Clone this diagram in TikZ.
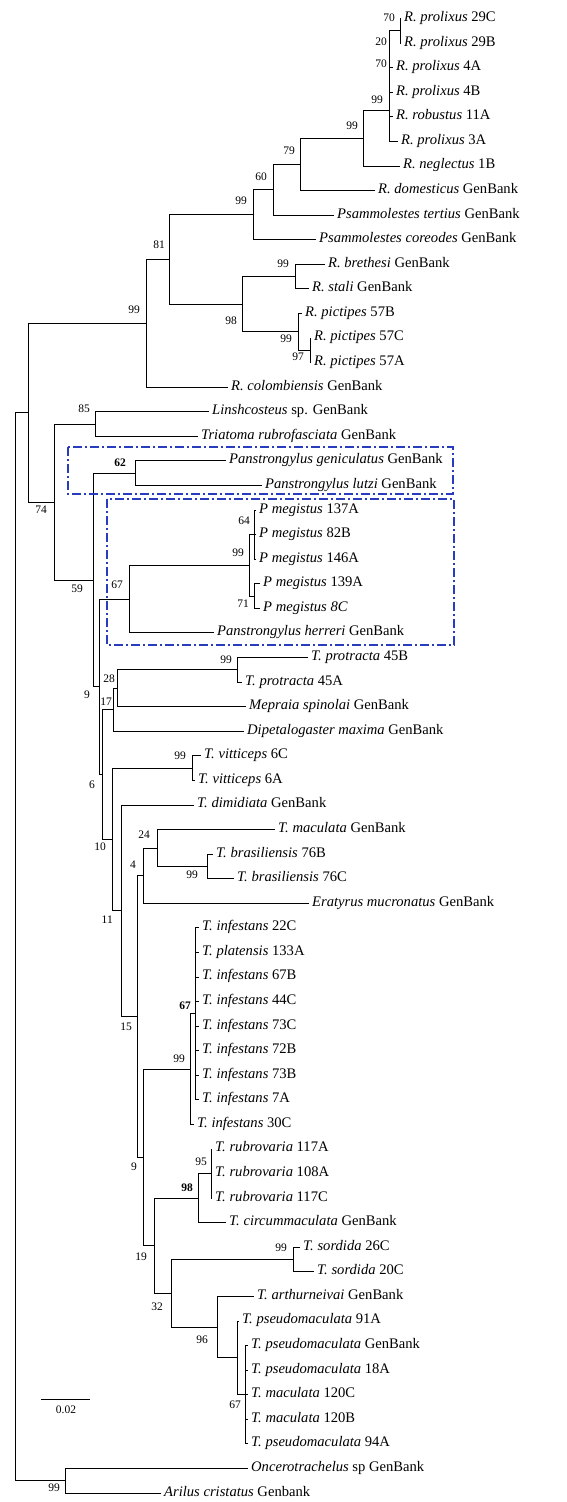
\documentclass[tikz,border=0pt]{standalone}
\usepackage{fontspec}
\setmainfont{Liberation Serif}
\definecolor{boxblue}{RGB}{40,60,190}
\begin{document}
\begin{tikzpicture}[x=1pt,y=-1pt,
  br/.style={draw=black,line width=0.8pt},
  leaf/.style={anchor=west,inner xsep=3.5pt,inner ysep=0pt,text height=0.6em,text depth=0pt,font=\fontsize{14.6}{16}\selectfont},
  bs/.style={anchor=east,inner sep=0pt,font=\fontsize{11.5}{13}\selectfont},
  clade/.style={draw=boxblue,line width=1.2pt,dash pattern=on 9pt off 3pt on 2pt off 3pt}]
\useasboundingbox (0,0) rectangle (566,1502);
% leaves
\node[leaf] (l1) at (400.5,18.5) {\textit{R. prolixus} 29C};
\node[leaf] (l2) at (400.5,43.08) {\textit{R. prolixus} 29B};
\node[leaf] (l3) at (392.5,67.65) {\textit{R. prolixus} 4A};
\node[leaf] (l4) at (392.5,92.23) {\textit{R. prolixus} 4B};
\node[leaf] (l5) at (392.5,116.8) {\textit{R. robustus} 11A};
\node[leaf] (l6) at (397.5,141.38) {\textit{R. prolixus} 3A};
\node[leaf] (l7) at (399.5,165.95) {\textit{R. neglectus} 1B};
\node[leaf] (l8) at (374.5,190.53) {\textit{R. domesticus} GenBank};
\node[leaf] (l9) at (333.5,215.1) {\textit{Psammolestes tertius} GenBank};
\node[leaf] (l10) at (315.5,239.68) {\textit{Psammolestes coreodes} GenBank};
\node[leaf] (l11) at (324.5,264.25) {\textit{R. brethesi} GenBank};
\node[leaf] (l12) at (308.5,288.83) {\textit{R. stali} GenBank};
\node[leaf] (l13) at (301.5,313.4) {\textit{R. pictipes} 57B};
\node[leaf] (l14) at (310.5,337.98) {\textit{R. pictipes} 57C};
\node[leaf] (l15) at (310.5,362.55) {\textit{R. pictipes} 57A};
\node[leaf] (l16) at (227.5,387.13) {\textit{R. colombiensis} GenBank};
\node[leaf] (l17) at (208.5,411.7) {\textit{Linshcosteus} sp. GenBank};
\node[leaf] (l18) at (197.5,436.28) {\textit{Triatoma rubrofasciata} GenBank};
\node[leaf] (l19) at (225.5,460.85) {\textit{Panstrongylus geniculatus} GenBank};
\node[leaf] (l20) at (261.5,485.43) {\textit{Panstrongylus lutzi} GenBank};
\node[leaf] (l21) at (255.5,510.0) {\textit{P megistus} 137A};
\node[leaf] (l22) at (255.5,534.58) {\textit{P megistus} 82B};
\node[leaf] (l23) at (255.5,559.15) {\textit{P megistus} 146A};
\node[leaf] (l24) at (259.5,583.73) {\textit{P megistus} 139A};
\node[leaf] (l25) at (259.5,608.3) {\textit{P megistus 8C}};
\node[leaf] (l26) at (213.5,632.88) {\textit{Panstrongylus herreri} GenBank};
\node[leaf] (l27) at (307.5,657.45) {\textit{T. protracta} 45B};
\node[leaf] (l28) at (241.5,682.03) {\textit{T. protracta} 45A};
\node[leaf] (l29) at (245.5,706.6) {\textit{Mepraia spinolai} GenBank};
\node[leaf] (l30) at (243.5,731.18) {\textit{Dipetalogaster maxima} GenBank};
\node[leaf] (l31) at (200.5,755.75) {\textit{T. vitticeps} 6C};
\node[leaf] (l32) at (194.5,780.33) {\textit{T. vitticeps} 6A};
\node[leaf] (l33) at (193.5,804.9) {\textit{T. dimidiata} GenBank};
\node[leaf] (l34) at (274.5,829.48) {\textit{T. maculata} GenBank};
\node[leaf] (l35) at (212.5,854.05) {\textit{T. brasiliensis} 76B};
\node[leaf] (l36) at (233.5,878.63) {\textit{T. brasiliensis} 76C};
\node[leaf] (l37) at (308.5,903.2) {\textit{Eratyrus mucronatus} GenBank};
\node[leaf] (l38) at (198.5,927.78) {\textit{T. infestans} 22C};
\node[leaf] (l39) at (198.5,952.35) {\textit{T. platensis} 133A};
\node[leaf] (l40) at (198.5,976.93) {\textit{T. infestans} 67B};
\node[leaf] (l41) at (198.5,1001.5) {\textit{T. infestans} 44C};
\node[leaf] (l42) at (198.5,1026.08) {\textit{T. infestans} 73C};
\node[leaf] (l43) at (198.5,1050.65) {\textit{T. infestans} 72B};
\node[leaf] (l44) at (198.5,1075.23) {\textit{T. infestans} 73B};
\node[leaf] (l45) at (198.5,1099.8) {\textit{T. infestans} 7A};
\node[leaf] (l46) at (193.5,1124.38) {\textit{T. infestans} 30C};
\node[leaf] (l47) at (211.5,1148.95) {\textit{T. rubrovaria} 117A};
\node[leaf] (l48) at (211.5,1173.53) {\textit{T. rubrovaria} 108A};
\node[leaf] (l49) at (211.5,1198.1) {\textit{T. rubrovaria} 117C};
\node[leaf] (l50) at (225.5,1222.68) {\textit{T. circummaculata} GenBank};
\node[leaf] (l51) at (299.5,1247.25) {\textit{T. sordida} 26C};
\node[leaf] (l52) at (313.5,1271.83) {\textit{T. sordida} 20C};
\node[leaf] (l53) at (253.5,1296.4) {\textit{T. arthurneivai} GenBank};
\node[leaf] (l54) at (238.5,1320.98) {\textit{T. pseudomaculata} 91A};
\node[leaf] (l55) at (247.5,1345.55) {\textit{T. pseudomaculata} GenBank};
\node[leaf] (l56) at (247.5,1370.13) {\textit{T. pseudomaculata} 18A};
\node[leaf] (l57) at (247.5,1394.7) {\textit{T. maculata} 120C};
\node[leaf] (l58) at (247.5,1419.28) {\textit{T. maculata} 120B};
\node[leaf] (l59) at (247.5,1443.85) {\textit{T. pseudomaculata} 94A};
\node[leaf] (l60) at (247.5,1468.43) {\textit{Oncerotrachelus} sp GenBank};
\node[leaf] (l61) at (160.5,1493.0) {\textit{Arilus cristatus} Genbank};
% internal nodes
\coordinate (root) at (15,946.7);
\coordinate (nOut) at (65,1480.72);
\coordinate (nA) at (28,412.63);
\coordinate (n99rh) at (146,323.28);
\coordinate (n81) at (169,259.43);
\coordinate (n99b) at (253,214.68);
\coordinate (n60) at (273,189.68);
\coordinate (n79) at (300,164.25);
\coordinate (n99c) at (363,137.98);
\coordinate (n99d) at (389,110);
\coordinate (n70a) at (400,30.79);
\coordinate (n98) at (242,304.19);
\coordinate (n99e) at (295,276.54);
\coordinate (n99f) at (298,331.83);
\coordinate (n97) at (310,350.27);
\coordinate (n74) at (54,501.98);
\coordinate (n85) at (95,423.99);
\coordinate (nP1) at (93,579.97);
\coordinate (n62) at (135,473.14);
\coordinate (nP2) at (99,686.8);
\coordinate (n67) at (129,599.1);
\coordinate (n99m) at (249,565.3);
\coordinate (n64) at (254,534.58);
\coordinate (n71) at (254,596.0);
\coordinate (nP3) at (102.5,774.5);
\coordinate (n17) at (113,709.68);
\coordinate (n28) at (117,688.17);
\coordinate (n99p) at (237,669.74);
\coordinate (nP4) at (112,839.37);
\coordinate (n99v) at (192,768.04);
\coordinate (nP5) at (121,910.69);
\coordinate (nP6) at (137,1016.48);
\coordinate (n4) at (143,875.56);
\coordinate (n24) at (157,847.91);
\coordinate (n99br) at (207,866.34);
\coordinate (nP7) at (143,1157.4);
\coordinate (n99i) at (190,1069.08);
\coordinate (n67i) at (195,1013.79);
\coordinate (nP8) at (154,1245.72);
\coordinate (n98r) at (198,1198.1);
\coordinate (n95) at (211,1173.53);
\coordinate (n32) at (171,1293.33);
\coordinate (n99s) at (293,1259.54);
\coordinate (n96) at (217,1327.12);
\coordinate (n237) at (237,1357.84);
\coordinate (nX) at (245,1394.7);
% branches
\foreach \p/\c in {root/nA,root/nOut,nOut/l60.west,nOut/l61.west,
  nA/n99rh,nA/n74,n99rh/n81,n99rh/l16.west,n81/n99b,n81/n98,
  n99b/n60,n99b/l10.west,n60/n79,n60/l9.west,n79/n99c,n79/l8.west,
  n99c/n99d,n99c/l7.west,n99d/n70a,n99d/l3.west,n99d/l4.west,n99d/l5.west,n99d/l6.west,
  n70a/l1.west,n70a/l2.west,n98/n99e,n98/n99f,n99e/l11.west,n99e/l12.west,
  n99f/l13.west,n99f/n97,n97/l14.west,n97/l15.west,
  n74/n85,n74/nP1,n85/l17.west,n85/l18.west,nP1/n62,nP1/nP2,n62/l19.west,n62/l20.west,
  nP2/n67,nP2/nP3,n67/n99m,n67/l26.west,n99m/n64,n99m/n71,
  n64/l21.west,n64/l22.west,n64/l23.west,n71/l24.west,n71/l25.west,
  nP3/n17,nP3/nP4,n17/n28,n17/l30.west,n28/n99p,n28/l29.west,n99p/l27.west,n99p/l28.west,
  nP4/n99v,nP4/nP5,n99v/l31.west,n99v/l32.west,nP5/l33.west,nP5/nP6,
  nP6/n4,nP6/nP7,n4/n24,n4/l37.west,n24/l34.west,n24/n99br,n99br/l35.west,n99br/l36.west,
  nP7/n99i,nP7/nP8,n99i/n67i,n99i/l46.west,
  n67i/l38.west,n67i/l39.west,n67i/l40.west,n67i/l41.west,n67i/l42.west,n67i/l43.west,n67i/l44.west,n67i/l45.west,
  nP8/n98r,nP8/n32,n98r/n95,n98r/l50.west,n95/l47.west,n95/l48.west,n95/l49.west,
  n32/n99s,n32/n96,n99s/l51.west,n99s/l52.west,n96/l53.west,n96/n237,n237/l54.west,n237/nX,
  nX/l55.west,nX/l56.west,nX/l57.west,nX/l58.west,nX/l59.west}
  \draw[br] (\p) |- (\c);
% bootstrap values
\foreach \t/\bx/\by [count=\i] in {70/395/18,20/387/42,70/387/64,99/383/100,99/358/126,79/295/151,
  60/267/177,99/247/201,81/165/245,99/140/310,99/289/264,98/237/321,99/292/339,97/304/357,
  85/90/409,74/47/510,{\textbf{62}}/126/463,64/250/521,99/244/553,59/83/589,67/123/585,71/249/604,
  99/232/660,28/115/679,9/90/695,17/112/702,99/186/756,6/95/785,24/150/835,10/106/847,4/136/865,
  99/198/875,11/113/920,{\textbf{67}}/191/1006,15/132/1027,99/185/1059,95/207/1162,9/137/1167,
  {\textbf{98}}/193/1188,99/287/1248,19/147/1257,32/163/1307,96/208/1340,67/241/1405,99/60/1488}
  \node[bs] (b\i) at (\bx,\by) {\t};
% clade boxes
\draw[clade] (68,447) rectangle (453,494);
\draw[clade] (107,499) rectangle (454,645);
% scale bar
\coordinate (sb1) at (41,1399);
\coordinate (sb2) at (90,1399);
\draw[br] (sb1) -- (sb2);
\node[font=\fontsize{11.5}{13}\selectfont,inner sep=0pt] (sbl) at (66,1410) {0.02};
\end{tikzpicture}
\end{document}
